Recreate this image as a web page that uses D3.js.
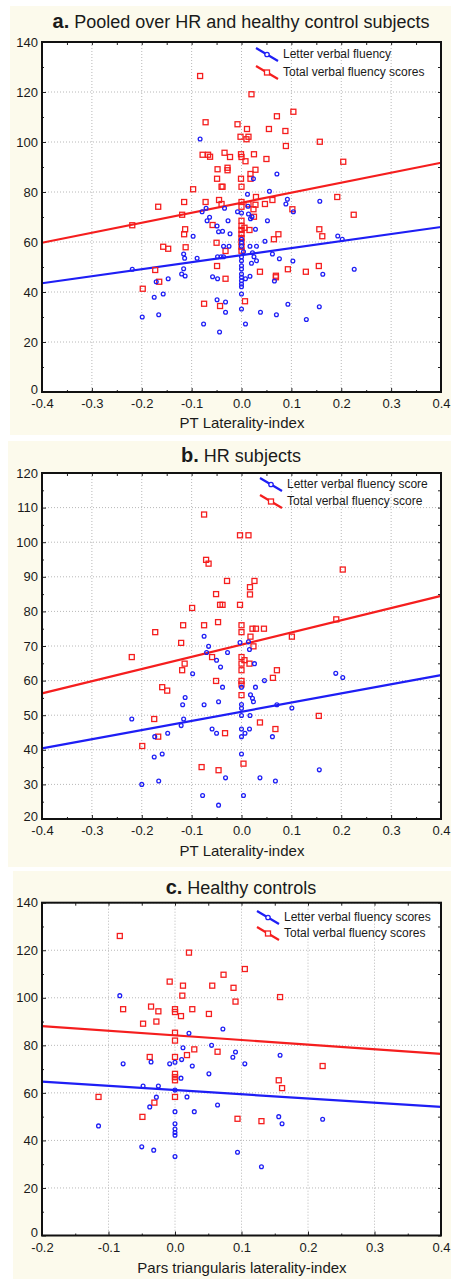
<!DOCTYPE html>
<html>
<head>
<meta charset="utf-8">
<script src="https://cdn.jsdelivr.net/npm/d3@7"></script>
<style>
  body { margin: 0; background: #fff; }
  text { font-family: "Liberation Sans", Arial, sans-serif; fill: #1a1a1a; }
</style>
</head>
<body>
<script>
// panel a: pooled, [laterality, score]
const aLetter = [[-0.083,101.2],[0.071,87.2],[0.024,85.3],[0.012,79.1],[0.056,80.3],[0.092,77.1],[0.089,75.2],[0.104,72.1],[0.157,76.3],[-0.071,73.5],[-0.079,72.1],[-0.034,73.5],[-0.008,72.1],[0,71.6],[0.014,71.2],[0.018,69.3],[0.021,70.1],[0.013,74.3],[-0.064,69.9],[-0.069,68.5],[-0.027,68.5],[0.052,68.5],[-0.049,66.4],[-0.046,64.1],[-0.038,64.3],[-0.023,63.3],[-0.097,62.3],[0.028,65.1],[0.193,62.4],[0,61.1],[0,59.7],[0,58.3],[0.047,60.3],[-0.036,58.3],[-0.025,58.3],[0.017,58.3],[0.030,58.3],[0.202,61.1],[-0.116,55.2],[-0.114,53.5],[-0.089,53.5],[-0.048,54.1],[-0.041,54.1],[-0.036,54.1],[0.004,56.1],[0.022,55.7],[0.025,54.1],[0.030,52.5],[0.020,51.5],[0.062,55.2],[0.076,53.3],[0,54],[0,52.5],[0,50.5],[0,49.2],[0.103,52.4],[-0.116,49.3],[0.226,49.1],[-0.219,49.1],[-0.113,46.4],[-0.120,47.2],[-0.171,44.1],[-0.147,45.3],[-0.058,46.1],[-0.048,45.3],[0,47.2],[0,45.9],[0,44.5],[0,43.2],[0,42.1],[0,39.2],[0,33.2],[0.008,45.3],[0.017,46.3],[0.066,44.4],[0.163,47.1],[-0.175,37.9],[-0.157,39.2],[-0.199,30.0],[-0.166,30.9],[-0.076,27.2],[-0.049,36.9],[-0.032,36.0],[-0.032,31.9],[-0.044,24.0],[0.008,27.2],[0.038,31.9],[0.070,30.9],[0.093,35.1],[0.130,29.0],[0.156,34.1]];
const aTotal = [[-0.083,126.4],[0.020,119.1],[-0.072,107.9],[-0.008,107.1],[0.011,105.2],[0.055,105.2],[0.071,110.3],[0.104,112.1],[0.088,104.4],[-0.002,102.1],[0.014,102.1],[0.010,101.1],[0.157,100.1],[0.089,98.4],[-0.078,94.9],[-0.067,94.9],[-0.063,94.1],[-0.034,95.7],[-0.023,94.0],[-0.001,95.1],[0,94.0],[0.008,92.3],[0.025,95.1],[0.050,93.2],[0.204,92.1],[-0.048,89.1],[-0.028,89.7],[-0.028,88.7],[0.028,88.9],[-0.049,85.3],[-0.001,85.3],[0.018,87.2],[0.018,85.3],[-0.040,82.1],[-0.038,82.1],[0,82.1],[-0.097,81.1],[0.192,78.0],[0.029,78.0],[0.062,76.8],[-0.167,74.1],[-0.115,76.0],[-0.072,76.0],[-0.045,76.8],[-0.040,75.2],[0,76.0],[0,74.1],[0.014,75.1],[0.028,74.9],[0.047,75.2],[0.024,73.1],[0.025,70.1],[0.102,73.1],[-0.119,70.9],[0.225,70.9],[0,68.5],[0,66.4],[0,64.8],[0,63.2],[0,61.6],[0,60.0],[0,58.1],[0,56.5],[-0.058,66.8],[0.006,65.7],[0.016,64.8],[-0.113,65.1],[-0.115,63.1],[0.156,65.1],[0.162,62.3],[0.074,63.1],[0.065,61.1],[-0.219,66.7],[-0.050,59.7],[-0.032,56.4],[-0.157,58.1],[-0.147,57.3],[-0.112,57.9],[-0.173,48.8],[-0.165,44.1],[-0.198,41.3],[-0.049,50.4],[-0.032,45.3],[0.037,48.1],[0.069,46.5],[0.069,45.9],[0.093,49.1],[0.129,48.1],[0.155,50.4],[-0.075,35.3],[-0.043,34.4],[0.007,36.3]];
// panel b: HR subjects
const bLetter = [[-0.075,72.8],[-0.066,69.9],[-0.070,68.1],[-0.028,68.1],[-0.050,65.9],[-0.042,63.9],[-0.003,71.0],[0.014,71.2],[0.016,69.0],[0.026,64.9],[-0.098,62.0],[0.189,62.1],[0.203,60.9],[0.046,60.0],[-0.038,58.1],[0.028,58.1],[0,58.1],[-0.113,55.1],[-0.118,53.0],[-0.075,53.0],[-0.046,53.9],[0,53.1],[0,52.0],[0.018,55.9],[0.022,54.9],[0.024,53.9],[0.071,53.0],[0.101,52.1],[0,49.9],[-0.220,48.9],[-0.116,48.9],[-0.121,47.0],[0.017,49.9],[-0.059,46.0],[-0.050,44.8],[0,46.0],[0,43.8],[0,38.8],[0.007,44.8],[0.016,46.0],[0.062,43.8],[-0.174,43.8],[-0.148,44.8],[-0.159,38.8],[-0.175,37.9],[-0.200,30.0],[-0.166,31.0],[-0.032,31.9],[0.037,31.9],[0.068,31.0],[0.156,34.2],[-0.078,26.8],[0.004,26.8],[-0.046,24.0]];
const bTotal = [[-0.075,108.0],[-0.003,102.0],[0.014,102.0],[-0.071,94.9],[-0.066,93.8],[0.203,92.1],[-0.029,88.8],[0.026,88.8],[0.017,87.0],[0.017,84.9],[-0.051,85.0],[-0.043,81.9],[-0.038,81.9],[-0.003,81.9],[-0.099,81.0],[-0.117,76.0],[-0.075,76.0],[-0.047,76.9],[0,76.0],[0,74.0],[-0.173,74.0],[0.022,75.0],[0.029,75.0],[0.045,75.0],[0.018,72.7],[0.101,72.7],[-0.121,70.9],[0.024,69.9],[0.190,77.7],[-0.220,66.8],[-0.059,66.8],[0,66.8],[0.006,65.9],[-0.114,64.9],[0,64.9],[0.016,64.9],[-0.119,63.0],[0,63.0],[0.071,63.0],[0.063,60.8],[-0.051,59.9],[0,59.9],[0,58.9],[-0.159,58.1],[-0.149,57.1],[0,55.8],[-0.175,48.9],[-0.167,43.8],[-0.199,41.1],[-0.033,44.8],[0.037,47.9],[0.068,46.0],[0.155,49.8],[-0.080,35.0],[-0.046,34.1],[0.004,36.0]];
// panel c: healthy controls
const cLetter = [[-0.083,100.9],[0.021,85.1],[0.072,86.9],[0.012,79.0],[0.055,80.0],[0.091,77.2],[0.087,75.0],[0.158,75.8],[-0.078,72.2],[-0.036,73.0],[-0.008,72.2],[0,72.9],[0.010,74.0],[0.026,71.3],[0.105,72.2],[0.051,68.0],[0.009,66.2],[-0.048,62.9],[-0.025,62.9],[0,61.2],[-0.028,58.2],[0.018,58.3],[-0.038,54.1],[0.064,54.9],[0,52.1],[0.029,52.1],[0.156,50.0],[0.161,47.0],[0.222,48.9],[0,47.0],[0,44.8],[-0.115,46.1],[0,43.3],[0,42.2],[-0.050,37.3],[-0.032,35.9],[0,33.2],[0.094,35.0],[0.130,28.9]];
const cTotal = [[-0.083,126.0],[0.021,119.0],[-0.008,106.8],[0.012,105.1],[0.056,105.1],[0.073,109.7],[0.088,104.2],[0.105,112.1],[0.011,100.9],[0.158,100.3],[0.091,98.4],[-0.078,95.2],[-0.036,96.3],[-0.025,94.3],[0,95.2],[0,94.0],[0.009,92.3],[0.026,95.2],[0.051,93.2],[-0.048,89.1],[-0.028,90.0],[0,85.3],[0,82.0],[0.029,78.3],[0.018,75.9],[0.064,77.3],[-0.038,75.1],[0,75.1],[0.222,71.3],[0,68.0],[0,66.6],[0,65.3],[0.156,65.3],[0.161,62.0],[-0.115,58.3],[0,58.3],[-0.031,55.9],[-0.049,49.9],[0.094,49.1],[0.130,48.1]];

// fitted lines, value at left and right end of the x range
const fitA = { letter: [43.5, 66.0], total: [59.7, 91.7] };
const fitB = { letter: [40.4, 61.6], total: [56.3, 84.5] };
const fitC = { letter: [64.7, 54.1], total: [88.1, 76.4] };

const xTicksPT = [-0.4, -0.3, -0.2, -0.1, 0.0, 0.1, 0.2, 0.3, 0.4];
const xTicksPars = [-0.2, -0.1, 0.0, 0.1, 0.2, 0.3, 0.4];
const yTicksAC = [0, 20, 40, 60, 80, 100, 120, 140];
const yTicksB = [20, 30, 40, 50, 60, 70, 80, 90, 100, 110, 120];

const BLUE = '#1e1ef5';
const RED = '#f51e1e';

const svg = d3.select('body').append('svg')
    .attr('width', 451)
    .attr('height', 1279);

function panel(p) {
    svg.append('rect')
        .attr('x', p.bg[0]).attr('y', p.bg[1])
        .attr('width', p.bg[2]).attr('height', p.bg[3])
        .attr('fill', '#fcfaec');

    let x = d3.scaleLinear().domain(p.xDomain).range([42, 441]);
    let y = d3.scaleLinear().domain(p.yDomain).range(p.yRange);
    let top = p.yRange[1], bottom = p.yRange[0];

    svg.append('rect')
        .attr('x', 42).attr('y', top)
        .attr('width', 399).attr('height', bottom - top)
        .attr('fill', 'white');

    // dotted grid
    let grid = svg.append('g').attr('class', 'grid');
    grid.selectAll('.gx').data(p.xTicks).enter().append('line')
        .attr('x1', d => x(d)).attr('x2', d => x(d))
        .attr('y1', top).attr('y2', bottom);
    grid.selectAll('.gy').data(p.yTicks).enter().append('line')
        .attr('y1', d => y(d)).attr('y2', d => y(d))
        .attr('x1', 42).attr('x2', 441);
    grid.selectAll('line')
        .attr('stroke', '#b8b8b8')
        .attr('stroke-width', 1)
        .attr('stroke-dasharray', '1,2');

    // minor ticks
    let xMinor = [], yMinor = [];
    for (let i = 0; i < p.xTicks.length - 1; i++) xMinor.push((p.xTicks[i] + p.xTicks[i + 1]) / 2);
    for (let i = 0; i < p.yTicks.length - 1; i++) yMinor.push((p.yTicks[i] + p.yTicks[i + 1]) / 2);

    let fmtX = d => d.toFixed(1);

    svg.append('g')
        .attr('transform', `translate(0,${bottom})`)
        .call(d3.axisBottom(x).tickValues(p.xTicks).tickSize(-4).tickPadding(7).tickFormat(fmtX));
    svg.append('g')
        .attr('transform', `translate(0,${bottom})`)
        .call(d3.axisBottom(x).tickValues(xMinor).tickSize(-2).tickFormat(''));
    svg.append('g')
        .attr('transform', `translate(0,${top})`)
        .call(d3.axisTop(x).tickValues(p.xTicks.concat(xMinor)).tickSize(-3).tickFormat(''));
    let yAxis = svg.append('g')
        .attr('transform', 'translate(42,0)')
        .call(d3.axisLeft(y).tickValues(p.yTicks).tickSize(-4).tickPadding(4));
    // lowest y label sits just above the x labels
    yAxis.selectAll('.tick text').filter(d => d == p.yDomain[0]).attr('dy', '0.1em');
    svg.append('g')
        .attr('transform', 'translate(42,0)')
        .call(d3.axisLeft(y).tickValues(yMinor).tickSize(-2).tickFormat(''));
    svg.append('g')
        .attr('transform', 'translate(441,0)')
        .call(d3.axisRight(y).tickValues(p.yTicks.concat(yMinor)).tickSize(-3).tickFormat(''));
    svg.selectAll('.domain').remove();
    svg.selectAll('.tick line').attr('stroke', '#222');
    svg.selectAll('.tick text')
        .attr('font-size', '13px')
        .attr('font-family', '"Liberation Sans", Arial, sans-serif')
        .attr('fill', '#1a1a1a');

    // fitted lines
    svg.append('line')
        .attr('x1', x(p.xDomain[0])).attr('y1', y(p.fit.total[0]))
        .attr('x2', x(p.xDomain[1])).attr('y2', y(p.fit.total[1]))
        .attr('stroke', RED).attr('stroke-width', 2.2);
    svg.append('line')
        .attr('x1', x(p.xDomain[0])).attr('y1', y(p.fit.letter[0]))
        .attr('x2', x(p.xDomain[1])).attr('y2', y(p.fit.letter[1]))
        .attr('stroke', BLUE).attr('stroke-width', 2.2);

    // points
    svg.append('g').selectAll('rect')
        .data(p.total).enter().append('rect')
        .attr('x', d => x(d[0]) - 2.5).attr('y', d => y(d[1]) - 2.5)
        .attr('width', 5).attr('height', 5)
        .attr('fill', 'none').attr('stroke', RED).attr('stroke-width', 1.3);
    svg.append('g').selectAll('circle')
        .data(p.letter).enter().append('circle')
        .attr('cx', d => x(d[0])).attr('cy', d => y(d[1]))
        .attr('r', 1.9)
        .attr('fill', 'none').attr('stroke', BLUE).attr('stroke-width', 1.3);

    // frame
    svg.append('rect')
        .attr('x', 42).attr('y', top)
        .attr('width', 399).attr('height', bottom - top)
        .attr('fill', 'none').attr('stroke', '#111').attr('stroke-width', 2);

    // legend
    p.legend.forEach(function (l, i) {
        let lx = l.x, ly = l.y;
        svg.append('line')
            .attr('x1', lx).attr('y1', ly)
            .attr('x2', lx + 22).attr('y2', ly + 13)
            .attr('stroke', l.color).attr('stroke-width', 2.2);
        if (i == 0) {
            svg.append('circle').attr('cx', lx + 11).attr('cy', ly + 6.5).attr('r', 2.2)
                .attr('fill', 'white').attr('stroke', l.color).attr('stroke-width', 1.3);
        } else {
            svg.append('rect').attr('x', lx + 8.5).attr('y', ly + 4).attr('width', 5).attr('height', 5)
                .attr('fill', 'white').attr('stroke', l.color).attr('stroke-width', 1.3);
        }
        svg.append('text')
            .attr('x', lx + 27).attr('y', ly + 10)
            .attr('font-size', '12px')
            .text(l.label);
    });

    // title
    let t = svg.append('text')
        .attr('x', 241).attr('y', p.titleY)
        .attr('text-anchor', 'middle')
        .attr('font-size', '18px');
    t.append('tspan').attr('font-weight', 'bold').attr('font-size', '20px').text(p.letterTag);
    t.append('tspan').text(' ' + p.title);

    svg.append('text')
        .attr('x', 242).attr('y', p.xTitleY)
        .attr('text-anchor', 'middle')
        .attr('font-size', '15px')
        .text(p.xTitle);
}

panel({
    bg: [10, 6, 441, 429],
    xDomain: [-0.4, 0.4], yDomain: [0, 140], yRange: [392, 42],
    xTicks: xTicksPT, yTicks: yTicksAC,
    letter: aLetter, total: aTotal, fit: fitA,
    letterTag: 'a.', title: 'Pooled over HR and healthy control subjects', titleY: 28,
    xTitle: 'PT Laterality-index', xTitleY: 428,
    legend: [
        { x: 256, y: 48, color: BLUE, label: 'Letter verbal fluency' },
        { x: 256, y: 66, color: RED, label: 'Total verbal fluency scores' }
    ]
});

panel({
    bg: [8, 441, 443, 426],
    xDomain: [-0.4, 0.4], yDomain: [20, 120], yRange: [819, 473],
    xTicks: xTicksPT, yTicks: yTicksB,
    letter: bLetter, total: bTotal, fit: fitB,
    letterTag: 'b.', title: 'HR subjects', titleY: 462,
    xTitle: 'PT Laterality-index', xTitleY: 856,
    legend: [
        { x: 260, y: 478, color: BLUE, label: 'Letter verbal fluency score' },
        { x: 260, y: 495, color: RED, label: 'Total verbal fluency score' }
    ]
});

panel({
    bg: [13, 871, 438, 408],
    xDomain: [-0.2, 0.4], yDomain: [0, 140], yRange: [1235.5, 902.7],
    xTicks: xTicksPars, yTicks: yTicksAC,
    letter: cLetter, total: cTotal, fit: fitC,
    letterTag: 'c.', title: 'Healthy controls', titleY: 894,
    xTitle: 'Pars triangularis laterality-index', xTitleY: 1273,
    legend: [
        { x: 257, y: 911, color: BLUE, label: 'Letter verbal fluency scores' },
        { x: 257, y: 927, color: RED, label: 'Total verbal fluency scores' }
    ]
});
</script>
</body>
</html>
